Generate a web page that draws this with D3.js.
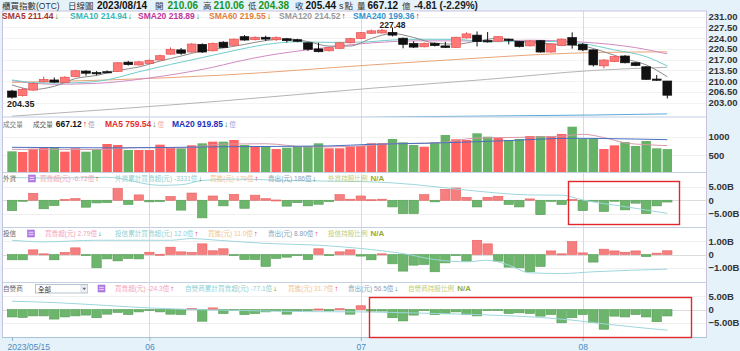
<!DOCTYPE html>
<html><head><meta charset="utf-8">
<script src="https://cdn.jsdelivr.net/npm/d3@7"></script>
<style>
html,body{margin:0;padding:0;background:#e6f2fa;}
svg{display:block;}
text{font-family:"Liberation Sans","Noto Sans CJK TC",Arial,sans-serif;}
</style></head><body>
<svg id="c" width="740" height="351"></svg>
<script>
// ---------------- DATA ----------------
const tickIdx = [0, 13, 33, 54];
const tickLabels = ["2023/05/15", "06", "07", "08"];
const priceTicks = [203, 206.5, 210, 213.5, 217, 220.5, 224, 227.5, 231];
const volTicks = [500, 1000];
const foreignTicks = [-5, 0, 5];
const trustTicks = [-1, 0, 1];
const dealerTicks = [-5, 0, 5];
const prevClose = 206.9;

const open = [206.8,205.3,207.1,209.8,210.4,209.6,211.5,213.3,212.8,213.1,213.2,216.2,215.3,215.8,216.9,218.8,220.2,219.5,222.0,219.9,222.7,221.7,224.5,223.5,224.3,223.5,223.8,223.5,222.5,220.5,219.9,220.7,222.5,223.9,225.6,225.7,225.9,224.0,222.3,221.2,222.3,221.5,221.0,224.1,225.0,223.2,223.0,223.7,222.9,221.5,223.2,219.5,221.6,224.2,222.0,220.2,215.0,216.4,218.2,216.0,214.7,210.7,210.06];
const high = [207.2,207.8,209.6,211.5,211.2,211.6,213.7,213.6,213.3,213.5,216.2,216.6,216.6,217.1,218.6,221.0,220.8,222.4,222.3,222.6,223.0,223.9,225.0,224.6,224.8,224.6,224.1,223.8,222.7,222.5,221.1,222.7,224.1,226.0,226.8,227.0,227.48,224.2,223.0,222.6,222.6,222.8,224.5,225.9,226.2,226.0,224.7,223.9,223.1,223.4,223.4,222.3,223.9,225.9,222.4,220.4,217.2,218.3,218.5,216.2,214.9,212.0,210.06];
const low = [204.35,205.0,206.9,209.6,209.4,209.4,211.3,211.8,211.9,212.7,213.0,215.1,215.1,215.6,216.7,218.6,218.6,219.3,219.2,219.7,220.8,221.5,223.2,223.3,223.1,223.1,222.6,222.7,219.9,219.4,219.7,220.5,222.3,223.7,225.4,225.5,224.6,220.7,220.8,221.0,221.3,220.8,220.8,223.9,221.3,222.6,222.8,222.0,221.0,221.3,219.3,219.3,221.4,220.6,219.8,214.8,214.2,216.2,215.8,214.9,210.4,210.1,204.38];
const close = [204.8,207.35,209.3,210.6,209.7,211.3,213.4,212.6,212.4,213.0,216.0,215.4,216.3,216.8,218.3,220.4,219.1,222.1,219.5,222.3,221.0,223.7,223.4,224.3,223.7,224.2,223.2,223.0,220.4,219.6,220.9,222.5,223.9,225.8,226.4,226.6,225.0,222.0,221.1,222.3,221.6,221.0,224.3,225.4,222.9,222.8,224.5,223.3,221.3,223.1,219.5,222.1,223.7,221.8,220.2,215.3,216.9,218.0,216.0,215.1,210.6,210.3,205.44];

// moving averages: [day index, value]
const sma5 = [[0,208.8],[2,207.3],[4,208.35],[6,210.86],[8,211.88],[10,213.48],[12,214.62],[14,216.56],[16,218.18],[18,219.88],[20,220.8],[22,221.98],[24,223.22],[26,223.76],[28,222.9],[30,221.42],[32,221.46],[34,223.9],[36,225.54],[38,224.22],[40,222.4],[42,222.06],[44,223.04],[46,223.98],[48,222.96],[50,222.34],[52,221.94],[54,221.46],[56,219.58],[58,217.28],[60,215.32],[62,211.44]];
const sma10 = [[0,210.4],[3,209.4],[6,209.5],[9,210.45],[12,213.07],[15,215.46],[18,217.69],[21,219.95],[24,221.95],[27,222.83],[30,222.64],[33,222.72],[36,223.41],[39,223.65],[42,223.61],[45,222.84],[48,222.94],[51,222.92],[54,222.23],[57,220.19],[60,217.97],[62,214.94]];
const sma20 = [[0,210.2],[4,209.0],[8,209.3],[12,210.6],[16,212.6],[19,214.53],[21,216.16],[24,218.25],[29,220.64],[34,222.47],[39,223.15],[44,223.1],[49,223.34],[54,222.73],[59,220.94],[62,218.89]];
const sma60 = [[0,209.6],[9,210.4],[20,212.0],[34,215.3],[44,217.5],[50,218.7],[56,219.4],[62,219.55]];
const sma120 = [[0,198.6],[10,201.0],[20,203.6],[34,207.7],[45,210.6],[55,213.5],[62,214.52]];
const sma240 = [[0,196.6],[20,197.6],[40,198.5],[55,199.0],[62,199.36]];

const volume = [607,589,677,705,723,597,688,597,669,804,777,642,642,642,785,714,688,768,822,866,866,911,777,750,750,669,705,750,750,822,688,688,731,750,822,822,938,849,777,731,849,1046,930,911,1091,1000,973,911,938,1019,1019,1019,1073,1269,938,938,669,768,857,750,884,688,667.12];
const volMA5 = [[0,660],[4,660],[8,655],[12,707],[16,694],[20,802],[24,811],[28,725],[32,736],[36,813],[40,829],[44,965],[48,983],[52,1014],[54,1064],[56,977],[58,834],[60,786],[62,759.54]];
const volMA20 = [[0,715],[10,700],[20,730],[30,752],[34,796],[39,823],[46,884],[53,957],[56,950],[62,919.85]];

// institutional net buy/sell (billions)
const foreign = [-3.9,-0.2,2.6,-3.2,-2.0,0.3,0.6,-2.6,-1.0,-0.9,4.4,-1.6,2.0,-0.6,-0.5,1.4,-3.7,2.7,-6.6,1.6,-2.1,2.2,-3.0,1.9,0.6,0.1,-2.2,-0.9,-2.1,-1.5,-0.5,2.1,0.4,1.6,0.2,0.4,-2.5,-5.0,-5.0,2.1,-0.6,4.1,4.6,1.1,-2.5,1.1,1.5,-1.6,-2.5,0.5,-5.4,-0.4,-1.6,0.3,-3.9,-0.4,-4.2,-0.3,-3.6,-1.1,-5.0,-2.1,-0.67];
const trust = [-0.4,-0.4,0.35,0.05,-0.4,0.15,0.5,-0.05,-1.0,-0.33,-0.48,-0.3,-0.33,0.17,0.02,0.55,0.2,0.15,0.8,0.28,0.43,-0.02,-0.38,-0.38,-0.9,-0.3,-0.2,-0.05,-0.38,0.43,-0.05,0.2,0.35,-0.12,-0.4,0.05,-0.7,-1.25,-0.8,-0.75,-1.3,-0.63,-0.02,-0.5,1.07,0.8,-0.5,-0.95,-1.0,-1.3,-0.9,0.27,0.05,0.97,0.12,-0.57,0.4,0.27,0.17,0.27,-0.15,0.1,0.279];
const dealer = [-2.8,-3.0,-2.4,-2.4,-3.6,-2.8,-2.4,-2.1,-3.1,-1.75,-1.1,-1.9,-0.9,-0.4,-0.9,-1.75,-1.9,0.4,-4.4,0.6,-1.5,-0.3,-1.9,-1.5,-0.9,-0.5,-1.75,-0.3,-0.3,0.2,-0.5,0.3,-1.75,1.4,-0.6,-0.6,-3.1,-4.3,-2.1,-0.2,-1.9,-1.6,-0.9,-1.9,-2.4,-0.2,-0.1,-1.5,-1.25,-1.5,-2.5,-1.9,-5.0,-3.1,-1.9,-4.9,-7.4,-2.5,-2.8,-1.9,-2.8,-4.6,-2.43];
const foreignLine = [[0,8.5],[4,8.3],[9,8.6],[14,5.6],[16,5.8],[18,7.4],[21,7.9],[27,7.3],[34,6.9],[38,5.9],[43,3.8],[49,2.0],[52,1.9],[54,0.1],[58,-2.4],[62,-4.9]];
const trustLine = [[0,1.07],[3,0.95],[8,1.07],[15,1.07],[17,1.2],[19,1.1],[24,0.83],[29,0.7],[33,0.45],[34,0.37],[37,0.07],[40,-0.38],[43,-0.55],[45,-0.43],[47,-0.8],[49,-1.38],[52,-1.43],[55,-1.3],[62,-1.1]];
const dealerLine = [[0,3.1],[4,2.6],[9,1.5],[13,0.6],[18,-0.1],[22,-0.4],[28,-0.8],[33,-0.9],[38,-1.3],[43,-1.8],[50,-3.0],[53,-4.0],[56,-5.4],[62,-7.8]];

// ---------------- LAYOUT ----------------
const svg = d3.select('#c');
const L = 2.5, R = 706.5;
const P = {main:[11,117], vol:[117,172.5], f:[172.5,227.5], t:[227.5,282.5], d:[282.5,337.5]};
const n = open.length;
const idx = d3.range(n);

const x = d3.scaleLinear().domain([0, n-1]).range([12, 667.3]);
const yP = d3.scaleLinear().domain([203, 231]).range([102.7, 16.7]);
const yV = d3.scaleLinear().domain([0, 1000]).range([173.9, 136.7]);
const yF = d3.scaleLinear().domain([-5, 5]).range([213.6, 186.9]);
const yT = d3.scaleLinear().domain([-1, 1]).range([267.8, 241.2]);
const yD = d3.scaleLinear().domain([-5, 5]).range([322.8, 296.2]);

const defs = svg.append('defs');
Object.entries(P).forEach(([k,[t,b]]) => {
  defs.append('clipPath').attr('id','clip_'+k).append('rect')
    .attr('x',L).attr('y',t).attr('width',R-L).attr('height',b-t);
});

svg.append('rect').attr('x',L).attr('y',P.main[0]).attr('width',R-L).attr('height',P.d[1]-P.main[0]).attr('fill','#fff');

// grids
function hgrid(scale, ticks, color){
  svg.append('g').selectAll('line').data(ticks).join('line')
    .attr('x1',L).attr('x2',R).attr('y1',d=>Math.round(scale(d))+0.5).attr('y2',d=>Math.round(scale(d))+0.5)
    .attr('stroke',d=>d===0?'#dcdcdc':color).attr('stroke-width',1);
}
hgrid(yP, priceTicks, '#f3f3f3');
hgrid(yV, volTicks, '#f1f1f1');
hgrid(yF, foreignTicks, '#efefef');
hgrid(yT, trustTicks, '#efefef');
hgrid(yD, dealerTicks, '#efefef');

svg.append('g').selectAll('line').data(tickIdx.slice(1)).join('line')
  .attr('x1',d=>Math.round(x(d))+0.5).attr('x2',d=>Math.round(x(d))+0.5)
  .attr('y1',P.main[0]).attr('y2',P.d[1]).attr('stroke','#dadada');

// ---------------- MAIN: candles ----------------
const gMain = svg.append('g').attr('clip-path','url(#clip_main)');
const up = i => close[i] >= open[i];
const line = (sx, sy) => d3.line().x(d=>sx(d[0])).y(d=>sy(d[1])).curve(d3.curveMonotoneX);

const smaDefs = [[sma240,'#5aa9d6'],[sma120,'#b4b4b4'],[sma60,'#e9a577'],[sma20,'#d08ac4'],[sma10,'#72cccc'],[sma5,'#8a8a8a']];
smaDefs.forEach(([d,c]) => gMain.append('path').attr('d', line(x,yP)(d)).attr('fill','none').attr('stroke',c).attr('stroke-width',1));

gMain.selectAll('line.wick').data(idx).join('line').attr('class','wick')
  .attr('x1',i=>x(i)).attr('x2',i=>x(i))
  .attr('y1',i=>yP(high[i])).attr('y2',i=>yP(low[i]))
  .attr('stroke',i=>up(i)?'#e04848':'#111').attr('stroke-width',1);
gMain.selectAll('rect.body').data(idx).join('rect').attr('class','body')
  .attr('x',i=>x(i)-4.4).attr('width',8.8)
  .attr('y',i=>yP(Math.max(open[i],close[i])))
  .attr('height',i=>Math.max(1.2, Math.abs(yP(open[i])-yP(close[i]))))
  .attr('fill',i=>up(i)?'#ff7878':'#111')
  .attr('stroke',i=>up(i)?'#e45252':'#111').attr('stroke-width',0.7);

const hiIdx = high.indexOf(d3.max(high)), loIdx = low.indexOf(d3.min(low));
svg.append('text').attr('x',x(hiIdx)).attr('y',yP(high[hiIdx])+0.5).attr('text-anchor','middle')
  .attr('font-size',8.5).attr('font-weight','bold').attr('fill','#222').text(d3.format('.2f')(high[hiIdx]));
svg.append('text').attr('x',x(loIdx)-5).attr('y',yP(low[loIdx])+8).attr('text-anchor','start')
  .attr('font-size',9).attr('font-weight','bold').attr('fill','#222').text(d3.format('.2f')(low[loIdx]));

// ---------------- VOLUME ----------------
const gVol = svg.append('g').attr('clip-path','url(#clip_vol)');
const volUp = i => close[i] >= (i===0 ? prevClose : close[i-1]);
gVol.selectAll('rect').data(idx).join('rect')
  .attr('x',i=>x(i)-4.7).attr('width',9.4)
  .attr('y',i=>yV(volume[i])).attr('height',i=>yV(0)-yV(volume[i]))
  .attr('fill',i=>volUp(i)?'#ff6262':'#66b266');
gVol.append('path').attr('d',line(x,yV)(volMA5)).attr('fill','none').attr('stroke','#d59aa8').attr('stroke-width',1);
gVol.append('path').attr('d',line(x,yV)(volMA20)).attr('fill','none').attr('stroke','#4a6fc0').attr('stroke-width',1);

// ---------------- FLOW PANELS ----------------
function flowPanel(key, vals, lineVals, ys){
  const g = svg.append('g').attr('clip-path','url(#clip_'+key+')');
  g.selectAll('rect').data(idx).join('rect')
    .attr('x',i=>x(i)-4.7).attr('width',9.4)
    .attr('y',i=>Math.min(ys(0), ys(vals[i])))
    .attr('height',i=>Math.max(1, Math.abs(ys(vals[i])-ys(0))))
    .attr('fill',i=>vals[i]>=0?'#f67e7e':'#6db56d')
    .attr('stroke',i=>vals[i]>=0?'#e66060':'#529c52').attr('stroke-width',0.6);
  g.append('path').attr('d',line(x,ys)(lineVals)).attr('fill','none').attr('stroke','#9dd6dc').attr('stroke-width',1);
}
flowPanel('f', foreign, foreignLine, yF);
flowPanel('t', trust, trustLine, yT);
flowPanel('d', dealer, dealerLine, yD);

// ---------------- FRAMES ----------------
[P.main[1], P.vol[1], P.f[1], P.t[1]].forEach(yy => {
  svg.append('line').attr('x1',L).attr('x2',R).attr('y1',yy).attr('y2',yy).attr('stroke','#c4cfe2').attr('stroke-width',1.2);
});
svg.append('rect').attr('x',L).attr('y',P.main[0]).attr('width',R-L).attr('height',P.d[1]-P.main[0])
  .attr('fill','none').attr('stroke','#cbc2dd').attr('stroke-width',1);
svg.append('line').attr('x1',L).attr('x2',R).attr('y1',P.d[1]).attr('y2',P.d[1]).attr('stroke','#a9c3d6').attr('stroke-width',1.2);

// ---------------- AXES ----------------
function rightAxis(scale, ticks, fmt){
  const g = svg.append('g').attr('transform',`translate(${R},0)`)
    .call(d3.axisRight(scale).tickValues(ticks).tickSize(0).tickPadding(2).tickFormat(fmt));
  g.select('.domain').remove();
  g.selectAll('text').attr('font-size',9.5).attr('font-weight','bold').attr('fill','#333')
    .attr('font-family','"Liberation Sans",Arial,sans-serif');
}
rightAxis(yP, priceTicks, d3.format('.2f'));
rightAxis(yV, volTicks, d3.format('d'));
const bfmt = d => d===0 ? '0' : d3.format('.2f')(d)+'B';
rightAxis(yF, foreignTicks, bfmt);
rightAxis(yT, trustTicks, bfmt);
rightAxis(yD, dealerTicks, bfmt);

const xg = svg.append('g').attr('transform',`translate(0,${P.d[1]})`)
  .call(d3.axisBottom(x).tickValues(tickIdx).tickSize(3.5).tickPadding(2.5).tickFormat((d,i)=>tickLabels[i]));
xg.select('.domain').remove();
xg.selectAll('line').attr('stroke','#8fb4cf');
xg.selectAll('text').attr('font-size',8.5).attr('fill','#4a8cc0').attr('font-family','"Liberation Sans",Arial,sans-serif');
xg.selectAll('.tick').filter((d,i)=>i===0).select('text').attr('text-anchor','start').attr('x',-5);

// ---------------- TEXT HEADERS ----------------
function label(xp, yp, parts){
  const t = svg.append('text').attr('x',xp).attr('y',yp);
  parts.forEach(p => {
    t.append('tspan').text(p[0]).attr('fill',p[1]).attr('font-size',p[2]||8)
      .attr('font-weight',p[3]||'normal').attr('dx',p[4]||0);
  });
  return t;
}
const UP='#e01010', DN='#118a11', GRN='#16961e';
// top line
label(2, 9, [['櫃買指數(OTC)','#333',8.5]]);
label(68, 9, [['日線圖','#333',8.5]]);
label(97, 9, [['2023/08/14','#111',10,'bold']]);
label(155, 9, [['開','#333',8.5],['210.06',GRN,10,'bold',4]]);
label(203, 9, [['高','#333',8.5],['210.06',GRN,10,'bold',2]]);
label(248, 9, [['低','#333',8.5],['204.38',GRN,10,'bold',2]]);
label(295, 9, [['收','#333',8.5],['205.44','#111',10,'bold',2],['s','#333',9,'normal',3],['點','#333',8.5,'normal',1]]);
label(357, 9, [['量','#333',8.5],['667.12','#111',10,'bold',2],['億','#333',8.5,'normal',4]]);
label(414, 9, [['-4.81 (-2.29%)','#222',10,'bold']]);

// SMA legend
label(2, 19, [['SMA5 211.44','#a83232',8.5,'bold'],['↓',DN,8.5,'bold',1]]);
label(70, 19, [['SMA10 214.94','#35b8b8',8.5,'bold'],['↓',DN,8.5,'bold',1]]);
label(138, 19, [['SMA20 218.89','#c0359e',8.5,'bold'],['↓',DN,8.5,'bold',1]]);
label(209, 19, [['SMA60 219.55','#e4803c',8.5,'bold'],['↓',DN,8.5,'bold',1]]);
label(279, 19, [['SMA120 214.52','#9a9a9a',8.5,'bold'],['↑',UP,8.5,'bold',1]]);
label(353, 19, [['SMA240 199.36','#3595cc',8.5,'bold'],['↑',UP,8.5,'bold',1]]);

// volume header
label(3, 127, [['成交量','#777',6.6]]);
label(33, 127, [['成交量','#555',6.6],['667.12','#111',8.5,'bold',3],['↑',UP,8.5,'bold',1],['億','#99a0b8',6.6,'normal',1]]);
label(105, 127, [['MA5 759.54','#e23030',8.5,'bold'],['↓',DN,8.5,'bold',1],['億','#f0a8a8',6.6,'normal',1]]);
label(172, 127, [['MA20 919.85','#2233bb',8.5,'bold'],['↓',DN,8.5,'bold',1],['億','#a0a0dd',6.6,'normal',1]]);

function icon(xp, yp){
  svg.append('rect').attr('x',xp).attr('y',yp).attr('width',7).attr('height',7).attr('fill','#b37ee6').attr('stroke','#9a66d0').attr('stroke-width',0.5);
  [2.3,4.6].forEach(dy => svg.append('line').attr('x1',xp+1.2).attr('x2',xp+5.8).attr('y1',yp+dy).attr('y2',yp+dy).attr('stroke','#fff').attr('stroke-width',0.7));
}
const PK='#f3a2b6', CY='#8fd0d2', OR='#efc596', BG='#88a3b8', YG='#bfcd77', NA='#98aa30';
const HS = 6.6;
// foreign
label(3, 181, [['外資','#666',HS]]);
icon(28.5, 175);
label(40, 181, [['買賣超(元) -6.72億',PK,HS],['↑',UP,7.5,'bold',1]]);
label(115, 181, [['外資累計買賣超(元) -3331億',CY,HS],['↓',DN,7.5,'bold',1]]);
label(210, 181, [['買進(元) 179億',OR,HS],['↑',UP,7.5,'bold',1]]);
label(268, 181, [['賣出(元) 186億',BG,HS],['↓',DN,7.5,'bold',1]]);
label(328, 181, [['外資持股比例',YG,HS],['N/A',NA,8,'bold',3]]);
// trust
label(3, 236, [['投信','#666',HS]]);
icon(27.5, 230);
label(45, 236, [['買賣超(元) 2.79億',PK,HS],['↓',DN,7.5,'bold',1]]);
label(115, 236, [['投信累計買賣超(元) 12.0億',CY,HS],['↑',UP,7.5,'bold',1]]);
label(208, 236, [['買進(元) 11.0億',OR,HS],['↑',UP,7.5,'bold',1]]);
label(268, 236, [['賣出(元) 8.80億',BG,HS],['↑',UP,7.5,'bold',1]]);
label(328, 236, [['投信持股比例',YG,HS],['N/A',NA,8,'bold',3]]);
// dealer
label(3, 291, [['自營商','#666',HS]]);
svg.append('rect').attr('x',35.5).attr('y',284.5).attr('width',52).attr('height',8.5).attr('fill','#fff').attr('stroke','#a9b4c4').attr('stroke-width',0.8);
svg.append('rect').attr('x',81).attr('y',285).attr('width',6.5).attr('height',7.5).attr('fill','#eef2f8').attr('stroke','#b8c2d0').attr('stroke-width',0.5);
svg.append('path').attr('d','M82.4,287.8 L86.1,287.8 L84.25,290.2 Z').attr('fill','#667');
label(38, 291.5, [['全部','#333',HS]]);
icon(98, 285);
label(115, 291, [['買賣超(元) -24.3億',PK,HS],['↑',UP,7.5,'bold',1]]);
label(185, 291, [['自營商累計買賣超(元) -77.1億',CY,HS],['↓',DN,7.5,'bold',1]]);
label(288, 291, [['買進(元) 31.7億',OR,HS],['↑',UP,7.5,'bold',1]]);
label(348, 291, [['賣出(元) 56.5億',BG,HS],['↓',DN,7.5,'bold',1]]);
label(408, 291, [['自營商持股比例',YG,HS],['N/A',NA,8,'bold',3]]);

// ---------------- HIGHLIGHTS ----------------
svg.append('rect').attr('x',568.5).attr('y',181.5).attr('width',111).attr('height',43)
  .attr('fill','none').attr('stroke','#e3262b').attr('stroke-width',1.4);
svg.append('rect').attr('x',369.5).attr('y',297.5).attr('width',322).attr('height',40)
  .attr('fill','none').attr('stroke','#e3262b').attr('stroke-width',1.4);
</script>
</body></html>
